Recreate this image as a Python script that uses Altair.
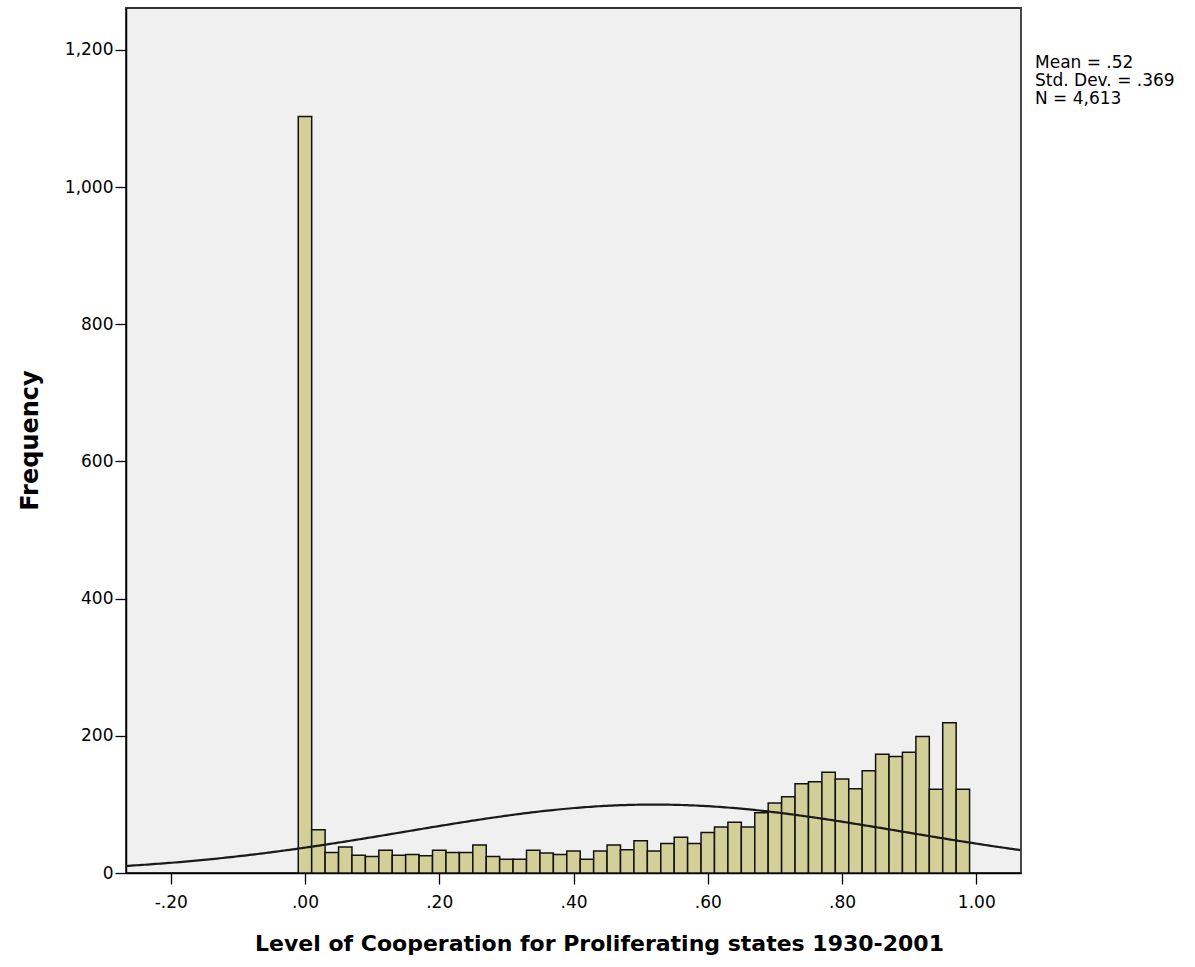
import altair as alt
import pandas as pd

# ---- data ----
bin_mids = [round(i * 0.02, 2) for i in range(50)]  # bin midpoints .00 ... .98
counts = [1103, 63, 30, 38, 26, 24, 33, 26, 27, 25,
          33, 30, 30, 41, 24, 20, 20, 33, 29, 27,
          32, 20, 32, 41, 34, 47, 32, 43, 52, 43,
          59, 67, 74, 67, 88, 102, 111, 130, 133, 147,
          137, 123, 149, 173, 170, 176, 199, 122, 219, 122]
bin_width = 0.02
mean_val = 0.52
sd_val = 0.369
n_val = 4613
stat_lines = ["Mean = .52", "Std. Dev. = .369", "N = 4,613"]
x_ticks = [-0.2, 0.0, 0.2, 0.4, 0.6, 0.8, 1.0]
y_ticks = [0, 200, 400, 600, 800, 1000, 1200]
x_domain = [-0.2666, 1.0666]
y_domain = [0, 1261]

bars = pd.DataFrame({"mid": bin_mids, "count": counts})
stats = pd.DataFrame({"txt": ["\n".join(stat_lines)]})

FONT = "DejaVu Sans"

x_scale = alt.Scale(domain=x_domain, nice=False, zero=False, padding=0)
y_scale = alt.Scale(domain=y_domain, nice=False, padding=0)

label_expr = ("datum.value < 0 ? '-' + substring(format(-datum.value, '.2f'), 1) : "
              "(datum.value >= 1 ? format(datum.value, '.2f') : substring(format(datum.value, '.2f'), 1))")

x_axis = alt.Axis(
    values=x_ticks, labelExpr=label_expr, grid=False,
    title="Level of Cooperation for Proliferating states 1930-2001",
    titleFont=FONT, titleFontSize=22, titleFontWeight="bold", titleColor="#000",
    titleX=473, titleY=70, titleBaseline="middle", titleAlign="center",
    labelFont=FONT, labelFontSize=17, labelColor="#000", labelPadding=10,
    tickSize=11, tickColor="#000", tickWidth=1.3, domainColor="#000", domainWidth=1.5,
)
y_axis = alt.Axis(
    values=y_ticks, format=",d", grid=False, title="Frequency",
    titleFont=FONT, titleFontSize=24, titleFontWeight="bold", titleColor="#000",
    titleX=-96, titleY=432, titleAngle=270, titleBaseline="middle", titleAlign="center",
    labelFont=FONT, labelFontSize=17, labelColor="#000", labelPadding=2,
    tickSize=11, tickColor="#000", tickWidth=1.3, domainColor="#000", domainWidth=1.5,
)

bar_layer = alt.Chart(bars).transform_calculate(
    lo=f"datum.mid - {bin_width}/2", hi=f"datum.mid + {bin_width}/2"
).mark_bar(fill="#d3cf98", stroke="#111111", strokeWidth=1.5, orient="vertical").encode(
    x=alt.X("lo:Q", scale=x_scale, axis=x_axis),
    x2="hi:Q",
    y=alt.Y("count:Q", scale=y_scale, axis=y_axis),
    y2=alt.datum(0),
)

curve_layer = alt.Chart(alt.sequence(x_domain[0], x_domain[1] + 0.001, 0.004, as_="x")).transform_calculate(
    dens=f"{n_val} * {bin_width} / ({sd_val} * sqrt(2 * PI)) * exp(-0.5 * pow((datum.x - {mean_val}) / {sd_val}, 2))"
).mark_line(color="#1a1a1a", strokeWidth=2.2, clip=True).encode(
    x=alt.X("x:Q", scale=x_scale),
    y=alt.Y("dens:Q", scale=y_scale),
)

stats_layer = alt.Chart(stats).mark_text(
    align="left", baseline="top", font=FONT, fontSize=17, color="#000",
    lineBreak="\n", lineHeight=18
).encode(
    x=alt.value(909),
    y=alt.value(47),
    text="txt:N",
)

chart = alt.layer(bar_layer, curve_layer, stats_layer).properties(
    width=895, height=865,
    autosize=alt.AutoSizeParams(type="none"),
    padding={"left": 126, "top": 8, "right": 174, "bottom": 94},
    background="white",
).configure_view(fill="#f0f0f0", stroke="#333333", strokeWidth=1.8)

chart.save("out.html", embed_options={"renderer": "svg", "actions": False})
